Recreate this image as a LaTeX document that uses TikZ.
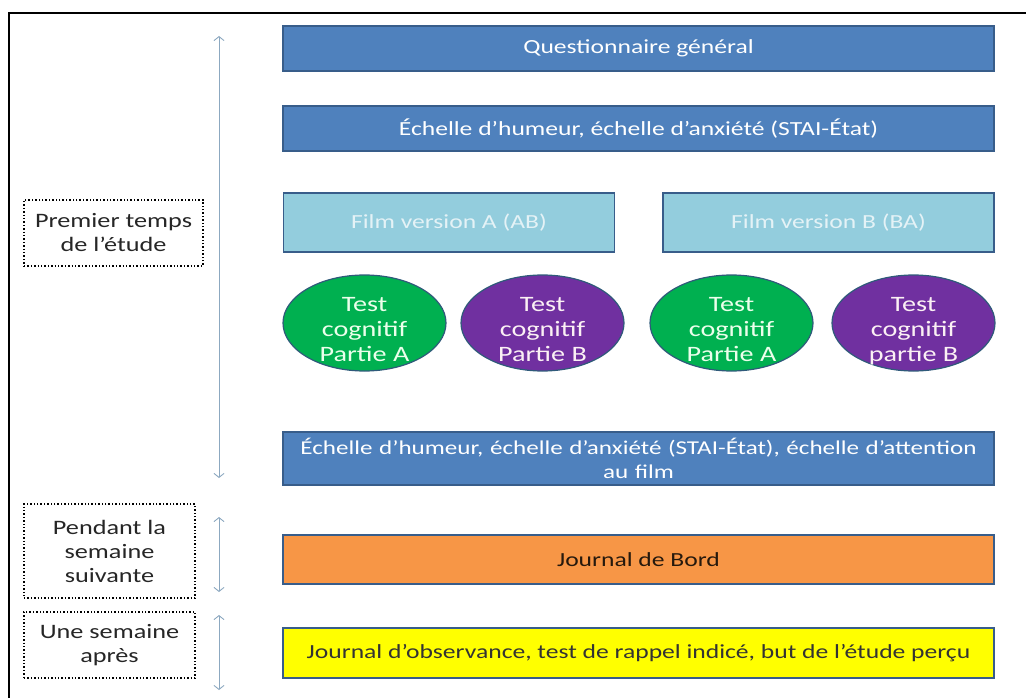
\documentclass[tikz,border=0pt]{standalone}
\usepackage{fontspec}
\setmainfont{Carlito}[FakeStretch=1.28]
\usetikzlibrary{shapes.geometric,arrows.meta}
\definecolor{darkblue}{HTML}{4F81BD}
\definecolor{darkblueline}{HTML}{385D8A}
\definecolor{filmfill}{HTML}{93CDDD}
\definecolor{filmtext}{HTML}{E4F2F6}
\definecolor{testgreen}{HTML}{00B050}
\definecolor{testpurple}{HTML}{7030A0}
\definecolor{ellline}{HTML}{2F5A7A}
\definecolor{orangefill}{HTML}{F79646}
\definecolor{yellowfill}{HTML}{FFFF00}
\definecolor{arrowgray}{HTML}{8CA8C0}
\tikzset{
  bar/.style={draw=darkblueline, line width=1.3pt, minimum width=711pt, inner sep=0pt,
    align=center, font=\fontsize{20}{25}\selectfont},
  bluebar/.style={bar, fill=darkblue, text=white, minimum height=45pt},
  filmbar/.style={draw=darkblueline, line width=1.3pt, fill=filmfill, text=filmtext,
    minimum width=331pt, minimum height=59pt, inner sep=0pt, font=\fontsize{20}{25}\selectfont},
  testell/.style={ellipse, draw=ellline, line width=1.2pt, minimum width=163pt,
    minimum height=96pt, inner sep=0pt},
  testtext/.style={align=center, inner sep=0pt, yshift=-8pt,
    font=\fontsize{22}{25}\selectfont},
  greentest/.style 2 args={testell, fill=testgreen,
    label={[testtext, text=green!8!white]center:{Test\\cognitif\\#2\vphantom{p}}}},
  purpletest/.style 2 args={testell, fill=testpurple,
    label={[testtext, text=purple!6!white]center:{Test\\cognitif\\#2\vphantom{p}}}},
  phase/.style={draw=black, dotted, line width=1.4pt, inner sep=0pt, align=center,
    text=black!85, font=\fontsize{20.5}{24}\selectfont},
  span/.style={draw=arrowgray, line width=0.9pt, {Straight Barb[length=4pt,width=10pt]}-{Straight Barb[length=4pt,width=10pt]}}
}
\begin{document}
\begin{tikzpicture}[x=1pt,y=-1pt]
\useasboundingbox (0,0) rectangle (1026,698);
% page frame
\draw[line width=1.2pt] (9,698) -- (9,13) -- (1026,13);

% first session
\node[bluebar] (quest) at (638.5,48.5) {Questionnaire général};
\node[bluebar] (humeur1) at (638.5,128.5) {Échelle d’humeur, échelle d’anxiété (STAI-État)};
\node[filmbar] (filmA) at (449,222.5) {Film version A (AB)};
\node[filmbar] (filmB) at (828.5,222.5) {Film version B (BA)};
\node[greentest={}{Partie A}] (tAa) at (364.5,323) {};
\node[purpletest={}{Partie B}] (tAb) at (542.5,323) {};
\node[greentest={}{Partie A}] (tBa) at (731.5,323) {};
\node[purpletest={}{partie B}] (tBb) at (913.5,323) {};
\node[bar, fill=darkblue, text=white, minimum height=53pt, text width=711pt,
  font=\fontsize{19.6}{24}\selectfont] (humeur2) at (638.5,458.5)
  {Échelle d’humeur, échelle d’anxiété (STAI-État), échelle d’attention\\au film};

% following week
\node[bar, fill=orangefill, text=black!80!brown, minimum height=49pt] (journal) at (638.5,559.5) {Journal de Bord};

% one week later
\node[bar, fill=yellowfill, text=black!80, minimum height=50pt] (rappel) at (638.5,653)
  {Journal d’observance, test de rappel indicé, but de l’étude perçu};

% phase labels
\node[phase, minimum width=179pt, minimum height=66pt] (p1) at (113.5,233) {Premier temps\\de l’étude};
\node[phase, minimum width=171pt, minimum height=94pt] (p2) at (109.5,551) {Pendant la\\semaine\\suivante};
\node[phase, minimum width=171pt, minimum height=66pt] (p3) at (109.5,645) {Une semaine\\après};

% time spans
\coordinate (s1a) at (219,36);  \coordinate (s1b) at (219,478);
\coordinate (s2a) at (219,517); \coordinate (s2b) at (219,592);
\coordinate (s3a) at (219,615); \coordinate (s3b) at (219,690);
\draw[span] (s1a) -- (s1b);
\draw[span] (s2a) -- (s2b);
\draw[span] (s3a) -- (s3b);
\end{tikzpicture}
\end{document}
